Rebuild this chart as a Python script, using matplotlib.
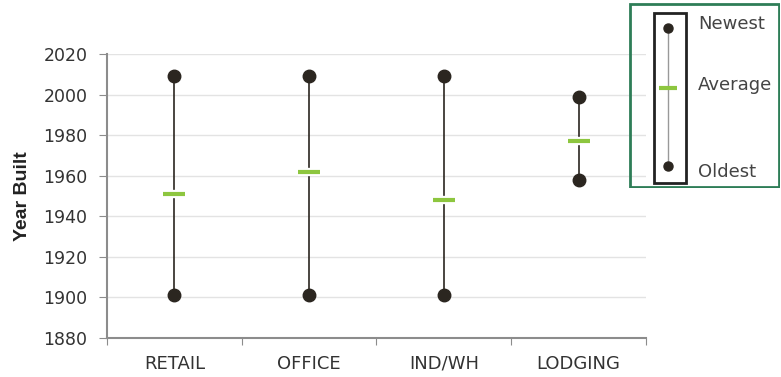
import matplotlib.pyplot as plt
from matplotlib.patches import Rectangle

plt.rcParams['font.family'] = ['DejaVu Sans']

types = ['RETAIL', 'OFFICE', 'IND/WH', 'LODGING']
newest = [2009, 2009, 2009, 1999]
oldest = [1901, 1901, 1901, 1958]
average = [1951, 1962, 1948, 1977]

dark = '#2b2620'
green = '#8dc63f'
axis_gray = '#8c8c8c'
text_col = '#333333'

fig = plt.figure(figsize=(7.81, 3.77), dpi=100)
ax = fig.add_axes([0.137, 0.1034, 0.690, 0.753])

x = list(range(len(types)))
ax.vlines(x, oldest, newest, color=dark, lw=1.2, zorder=3)
ax.plot(x, newest, 'o', color=dark, ms=9, zorder=4)
ax.plot(x, oldest, 'o', color=dark, ms=9, zorder=4)
ax.plot(x, average, '_', color='white', ms=15.5, mew=6, zorder=4)
ax.plot(x, average, '_', color=green, ms=15.5, mew=3, zorder=5)

ax.set_xlim(-0.5, len(types) - 0.5)
ax.set_ylim(1880, 2020)
ax.set_yticks(range(1880, 2021, 20))
# boundary ticks between categories, labels centred on each category
ax.set_xticks([i - 0.5 for i in range(len(types) + 1)])
ax.set_xticklabels([])
ax.set_xticks(x, minor=True)
ax.set_xticklabels(types, minor=True)
ax.tick_params(axis='x', which='minor', length=0, pad=12, labelsize=13, labelcolor=text_col)
ax.tick_params(axis='x', which='major', length=5, color=axis_gray)
ax.tick_params(axis='y', length=6, color=axis_gray, labelsize=12.5, labelcolor=text_col, pad=8)

ax.grid(axis='y', color='#e3e3e3', lw=1)
ax.set_axisbelow(True)
for s in ['top', 'right']:
    ax.spines[s].set_visible(False)
for s in ['left', 'bottom']:
    ax.spines[s].set_color(axis_gray)
    ax.spines[s].set_linewidth(1.5)

ax.set_ylabel('Year Built', fontsize=14, fontweight='bold', color='#222222',
              family=['Liberation Sans', 'DejaVu Sans'], labelpad=9)

# key box on the right
lax = fig.add_axes([629 / 781, 1 - 188 / 377, 151 / 781, 185 / 377])
lax.set_xlim(0, 151)
lax.set_ylim(185, 0)
lax.axis('off')
lax.add_patch(Rectangle((1, 1), 149, 183, fill=False, ec='#2e7d57', lw=2))
lax.add_patch(Rectangle((25, 10), 32, 170, fill=False, ec='#222222', lw=2))
lax.plot([39, 39], [25, 163], color='#999999', lw=1)
lax.plot([39, 39], [25, 163], 'o', color=dark, ms=6.5)
lax.plot([39], [85], '_', color=green, ms=13, mew=3)
for label, yy in [('Newest', 21), ('Average', 82), ('Oldest', 169)]:
    lax.text(69, yy, label, fontsize=13, color='#444444', va='center', ha='left')

fig.savefig('out.png', dpi=100)
